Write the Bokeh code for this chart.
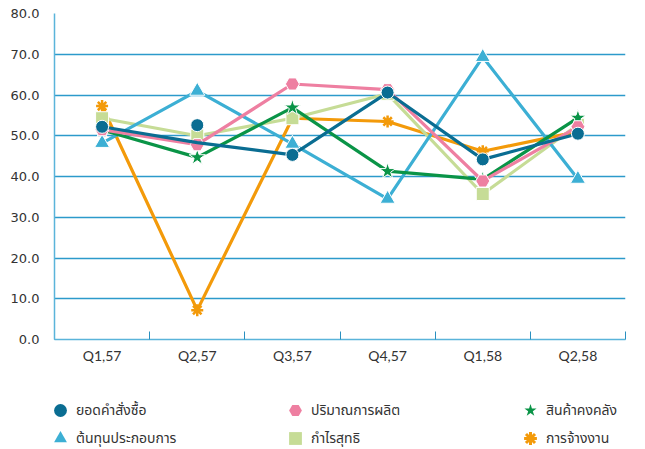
from bokeh.plotting import figure
from bokeh.layouts import column
from bokeh.models import (Range1d, FixedTicker, NumeralTickFormatter, Legend, LegendItem)
from bokeh.embed import file_html
from bokeh.resources import INLINE

categories = ["Q1,57", "Q2,57", "Q3,57", "Q4,57", "Q1,58", "Q2,58"]

orders_line = [52.2, 48.3, 45.3, 60.6, 44.2, 50.5]
orders_marker = [52.2, 52.6, 45.3, 60.6, 44.2, 50.5]
production = [51.5, 47.8, 62.7, 61.3, 38.9, 52.2]
inventory = [51.4, 44.7, 56.9, 41.3, 39.3, 54.4]
op_cost = [48.2, 61.0, 48.0, 34.5, 69.3, 39.4]
net_profit = [54.3, 50.0, 54.3, 60.3, 35.7, 52.7]
employment = [57.3, 7.2, 54.3, 53.5, 46.2, 51.0]

names = ["ยอดคำสั่งซื้อ", "ปริมาณการผลิต", "สินค้าคงคลัง",
         "ต้นทุนประกอบการ", "กำไรสุทธิ", "การจ้างงาน"]

x = [i + 0.5 for i in range(len(categories))]

p = figure(width=645, height=366, output_backend="svg", toolbar_location=None,
           x_range=Range1d(0, len(categories)), y_range=Range1d(0, 80),
           min_border_left=54, min_border_right=20, min_border_top=13,
           min_border_bottom=25)
p.outline_line_color = None
p.background_fill_color = "white"

# axes
p.yaxis.ticker = FixedTicker(ticks=list(range(0, 81, 10)))
p.yaxis.formatter = NumeralTickFormatter(format="0.0")
p.yaxis.major_tick_line_color = None
p.yaxis.major_tick_out = 0
p.yaxis.major_tick_in = 0
p.yaxis.minor_tick_line_color = None
p.yaxis.axis_line_color = "#5ab4da"
p.yaxis.axis_line_width = 1.5
p.yaxis.major_label_text_font = "DejaVu Sans"
p.yaxis.major_label_text_font_size = "13px"
p.yaxis.major_label_text_color = "#333333"
p.yaxis.major_label_standoff = 15

p.xaxis.ticker = FixedTicker(ticks=x, minor_ticks=list(range(0, len(categories) + 1)))
p.xaxis.major_label_overrides = {xv: c for xv, c in zip(x, categories)}
p.xaxis.major_tick_line_color = None
p.xaxis.major_tick_out = 0
p.xaxis.major_tick_in = 0
p.xaxis.minor_tick_line_color = "#2a90c0"
p.xaxis.minor_tick_in = 8
p.xaxis.minor_tick_out = 0
p.xaxis.axis_line_color = "#5ab4da"
p.xaxis.axis_line_width = 1.5
p.xaxis.major_label_text_font = "Lato"
p.xaxis.major_label_text_font_size = "14px"
p.xaxis.major_label_text_color = "#333333"
p.xaxis.major_label_standoff = 7

p.xgrid.grid_line_color = None
p.ygrid.grid_line_color = "#2c9acb"
p.ygrid.grid_line_width = 1.3

colors = ["#0a6d92", "#ee7fa1", "#0a9447", "#3cafd4", "#c6dc96", "#f39a0a"]
series = [orders_line, production, inventory, op_cost, net_profit, employment]
marker_vals = [orders_marker, production, inventory, op_cost, net_profit, employment]
markers = ["circle", "hex", "star", "triangle", "square", "asterisk"]
sizes = [13, 14, 17, 15, 13, 12]

for i in reversed(range(6)):
    p.line(x, series[i], line_color=colors[i], line_width=3.2)
    if markers[i] == "asterisk":
        p.scatter(x, marker_vals[i], marker="asterisk", size=sizes[i],
                  line_color=colors[i], line_width=2.5)
    else:
        p.scatter(x, marker_vals[i], marker=markers[i], size=sizes[i],
                  fill_color=colors[i], line_color="white", line_width=1)

# legend strip below the chart (its frame lines up with the chart frame)
lf = figure(width=645, height=83, output_backend="svg", toolbar_location=None,
            x_axis_type=None, y_axis_type=None, min_border=0,
            x_range=Range1d(0, 1), y_range=Range1d(0, 1))
lf.outline_line_color = None
lf.grid.visible = False

leg_r = {}
for i in range(6):
    if markers[i] == "asterisk":
        leg_r[i] = lf.scatter(x, marker_vals[i], marker="asterisk",
                              line_color=colors[i], line_width=3, visible=False)
    else:
        leg_r[i] = lf.scatter(x, marker_vals[i], marker=markers[i],
                              fill_color=colors[i], line_color=None, visible=False)


def make_legend(idx, loc):
    items = [LegendItem(label=names[i], renderers=[leg_r[i]]) for i in idx]
    return Legend(items=items, orientation="horizontal", location=loc,
                  border_line_color=None, background_fill_alpha=0,
                  label_text_font="Noto Sans Thai", label_text_font_size="14px",
                  label_text_color="#333333",
                  glyph_width=32, glyph_height=32, label_standoff=0,
                  label_width=115, spacing=88, padding=0, margin=0)


lf.add_layout(make_legend([0, 1, 2], (-10, 23)), "center")
lf.add_layout(make_legend([3, 4, 5], (-10, -5)), "center")

open("out.html", "w").write(file_html(column(p, lf, spacing=0), INLINE))
